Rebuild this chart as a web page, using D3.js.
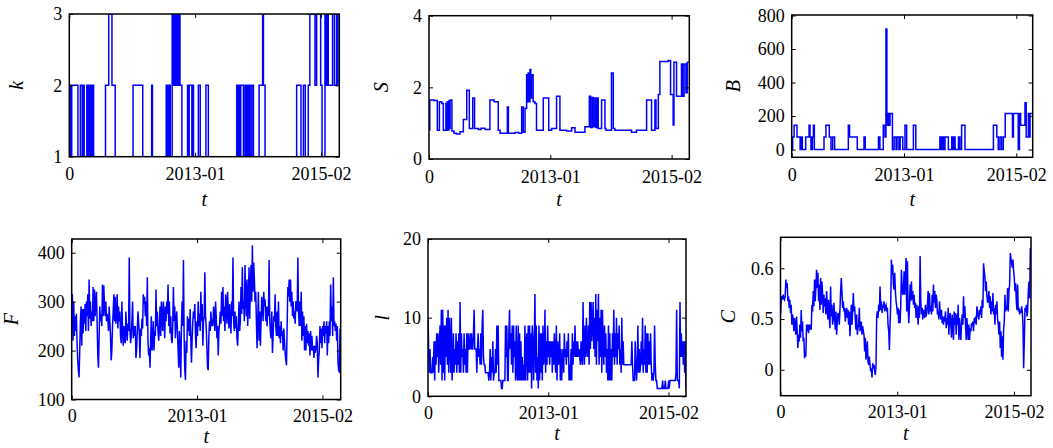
<!DOCTYPE html>
<html><head><meta charset="utf-8">
<script src="https://cdn.jsdelivr.net/npm/d3@7"></script>
<style>
body{margin:0;background:#fff}
svg{display:block}
svg text{font-family:"Liberation Serif","Times New Roman",Tinos,"DejaVu Serif",serif;fill:#000}
</style></head><body>
<svg id="chart" width="1053" height="448"></svg>
<script>
// ---- x axis (shared) ----
const tTickValues = [0, 466, 932];
const tTickLabels = ["0", "2013-01", "2015-02"];
const tDomain = [0, 1000];

// ---- k: step series [t, k] ----
const kSteps = [[0,1],[2,2],[4,1],[6,2],[8,1],[9,2],[32,1],[41,2],[48,1],[53,2],[55,1],[65,2],[68,1],[69,2],[72,1],[73,2],[75,1],[79,2],[82,1],[84,2],[86,1],[88,2],[90,1],[134,2],[146,3],[158,2],[170,1],[236,2],[272,1],[305,2],[308,1],[359,2],[362,1],[364,2],[366,1],[367,2],[370,1],[372,2],[374,1],[381,3],[385,2],[387,3],[392,2],[395,3],[399,2],[402,3],[406,2],[408,3],[410,2],[417,1],[438,2],[441,1],[444,2],[454,1],[457,2],[460,1],[478,2],[485,1],[506,2],[515,1],[620,2],[622,1],[625,2],[627,1],[630,2],[632,1],[635,2],[645,1],[651,2],[655,1],[658,2],[663,1],[667,2],[670,1],[676,2],[682,1],[703,2],[716,3],[719,2],[725,1],[842,2],[858,1],[867,2],[874,1],[885,2],[891,3],[910,2],[916,3],[931,2],[936,1],[947,3],[951,2],[954,3],[959,2],[975,3],[982,2],[990,3],[993,2],[995,3]];

// ---- S: step series [t, S] ----
const sSteps = [[0,0.81],[3,1.65],[20,1.63],[32,0.8],[40,1.6],[49,1.55],[55,0.8],[65,1.55],[68,0.8],[70,1.6],[74,0.8],[76,1.62],[79,0.85],[81,1.65],[88,0.78],[96,0.72],[105,0.7],[119,0.76],[132,1.1],[145,1.92],[155,0.85],[168,1.7],[175,0.85],[190,0.82],[200,0.86],[215,0.82],[234,1.65],[250,1.6],[266,0.8],[273,0.72],[301,1.45],[305,0.72],[330,0.74],[345,0.72],[356,1.45],[362,0.75],[369,1.42],[375,2.35],[378,1.6],[381,2.4],[384,1.6],[388,2.5],[391,1.7],[394,2.35],[400,1.6],[407,1.55],[413,0.8],[424,0.8],[439,1.7],[460,0.8],[471,0.85],[490,1.75],[503,0.8],[529,0.78],[548,0.87],[561,0.75],[599,0.9],[616,1.75],[621,0.88],[627,1.72],[631,0.9],[637,1.7],[641,0.88],[646,1.7],[650,0.85],[663,1.65],[676,0.85],[680,0.8],[701,2.4],[708,0.85],[714,0.8],[778,0.75],[797,0.8],[836,1.65],[855,0.8],[868,1.65],[872,0.85],[881,1.8],[887,2.72],[919,2.75],[928,1.8],[938,0.95],[941,2.7],[951,1.75],[970,2.65],[974,1.75],[980,2.65],[987,1.85],[992,2.7]];

// ---- B: step series [t, B] ----
const bSteps = [[0,0],[4,75],[10,145],[22,75],[35,0],[38,75],[44,0],[58,75],[72,145],[76,75],[80,0],[86,75],[90,145],[94,0],[134,75],[142,145],[156,75],[163,0],[170,75],[178,0],[235,145],[240,75],[272,0],[300,75],[305,0],[360,75],[366,0],[380,145],[387,75],[391,720],[395,145],[400,215],[404,145],[408,215],[418,0],[425,75],[433,0],[437,75],[445,0],[450,75],[461,0],[470,145],[477,0],[505,145],[515,0],[615,75],[620,0],[624,75],[630,0],[636,75],[650,0],[664,75],[670,0],[674,75],[678,0],[692,75],[698,0],[705,145],[719,0],[837,145],[851,75],[857,0],[864,75],[871,0],[878,75],[886,215],[913,215],[916,75],[920,215],[940,0],[945,215],[950,145],[968,280],[973,75],[982,215],[986,75],[989,215]];

// ---- F: sampled series ----
const fValues = [250,315,220,300,230,270,240,275,215,180,160,145,200,260,290,210,285,235,285,255,295,240,300,270,315,240,345,265,300,250,280,260,330,260,325,270,300,320,255,190,165,230,290,260,275,250,335,270,333,290,270,300,260,275,265,240,290,260,230,180,200,250,280,315,260,310,255,270,315,245,290,260,280,230,215,300,240,210,250,225,215,280,240,220,255,240,390,245,215,230,260,300,225,250,230,250,185,200,240,280,260,235,185,245,230,265,245,315,295,310,270,300,250,350,220,190,205,165,225,270,200,215,260,200,240,230,325,250,280,240,220,245,290,230,300,265,240,300,270,225,290,260,300,275,335,250,300,235,270,225,215,250,330,260,290,225,260,280,240,200,165,240,200,145,250,300,250,385,230,160,140,220,195,270,240,265,230,285,220,175,225,260,280,265,295,230,205,260,230,300,250,275,240,320,260,295,210,260,270,360,270,250,210,165,160,230,260,240,280,250,265,250,290,270,240,300,270,225,250,190,240,255,280,255,320,270,330,260,290,240,315,300,255,320,280,245,295,270,235,300,270,390,260,240,280,245,270,225,210,250,300,240,260,330,275,370,285,300,260,375,310,270,345,250,300,370,265,330,375,300,415,320,380,345,300,320,260,205,260,320,220,280,210,260,310,290,260,320,290,305,260,290,250,290,270,385,260,235,225,280,195,230,270,260,315,250,230,280,230,300,225,250,215,260,230,240,200,245,220,195,180,170,255,330,310,345,300,345,290,320,270,300,265,280,255,300,300,280,390,280,250,300,250,320,220,280,230,270,200,250,200,255,215,240,210,235,190,240,200,230,200,210,185,210,195,205,230,215,145,180,200,250,215,245,205,250,230,260,215,250,235,260,190,250,215,260,230,335,260,290,230,350,250,260,240,255,220,250,175,160,155,245,150];

// ---- l: sampled series ----
const lValues = [10,6,3,6,3,3,3,5,3,7,2,7,4,8,5,8,3,6,9,4,11,2,11,3,9,2,9,5,10,4,11,3,10,7,3,10,2,4,8,3,6,4,8,3,7,4,8,3,12,3,8,5,6,3,8,4,6,3,8,3,8,6,6,8,6,8,6,6,8,11,6,6,6,3,6,8,5,6,4,8,4,9,11,5,4,4,3,3,3,3,3,2,3,6,2,5,3,7,2,3,3,6,3,9,4,9,2,2,2,2,1,1,2,2,2,2,9,5,9,2,2,8,11,6,8,4,9,3,9,5,7,2,9,3,2,9,2,8,2,7,2,5,2,4,2,9,2,7,8,2,9,3,9,3,8,1,9,7,2,7,13,3,9,2,5,1,9,2,8,3,8,2,9,4,5,11,3,7,4,9,5,7,4,7,5,7,3,7,4,8,5,3,9,2,7,4,5,8,2,6,2,5,6,3,8,5,6,4,7,5,8,2,4,2,6,2,8,4,7,5,9,5,7,5,7,5,6,5,4,7,5,4,12,6,4,9,5,10,6,5,9,4,12,6,12,7,9,12,6,10,5,13,4,11,7,13,4,10,5,11,3,11,7,4,9,5,8,3,6,2,9,2,8,2,6,2,8,5,11,4,8,5,10,4,8,6,9,4,6,3,10,4,7,4,4,4,4,4,4,4,4,4,4,4,4,7,4,2,2,2,7,4,2,4,9,3,6,3,4,7,4,10,3,6,4,9,3,8,3,8,4,7,4,8,4,2,3,2,3,9,4,2,2,1,1,1,1,1,1,1,1,2,1,1,1,2,1,1,1,1,2,1,2,2,2,2,2,2,2,2,2,3,11,2,2,2,1,12,5,8,5,7,4,7,3,7,1];

// ---- C: sampled series ----
const cValues = [0.509,0.535,0.545,0.538,0.548,0.541,0.538,0.545,0.578,0.561,0.571,0.535,0.545,0.522,0.538,0.512,0.528,0.489,0.509,0.499,0.476,0.502,0.489,0.469,0.505,0.476,0.443,0.469,0.456,0.489,0.463,0.518,0.476,0.495,0.456,0.463,0.423,0.436,0.426,0.489,0.476,0.489,0.472,0.489,0.479,0.489,0.479,0.528,0.515,0.555,0.525,0.578,0.535,0.561,0.597,0.561,0.591,0.535,0.568,0.518,0.581,0.528,0.574,0.551,0.512,0.548,0.525,0.541,0.509,0.555,0.522,0.499,0.538,0.505,0.482,0.564,0.505,0.528,0.489,0.499,0.532,0.502,0.479,0.515,0.469,0.495,0.512,0.509,0.489,0.518,0.555,0.581,0.555,0.522,0.535,0.515,0.522,0.495,0.512,0.522,0.502,0.518,0.489,0.515,0.466,0.495,0.528,0.489,0.515,0.551,0.515,0.525,0.499,0.479,0.509,0.469,0.482,0.489,0.522,0.476,0.489,0.495,0.469,0.486,0.476,0.469,0.436,0.463,0.420,0.436,0.456,0.416,0.410,0.426,0.410,0.397,0.403,0.385,0.413,0.403,0.410,0.397,0.390,0.410,0.505,0.515,0.502,0.528,0.515,0.564,0.518,0.535,0.512,0.528,0.522,0.535,0.515,0.525,0.528,0.515,0.522,0.489,0.476,0.439,0.489,0.528,0.617,0.587,0.607,0.568,0.558,0.591,0.555,0.535,0.525,0.509,0.522,0.492,0.518,0.492,0.525,0.597,0.568,0.548,0.551,0.594,0.548,0.581,0.620,0.515,0.614,0.528,0.492,0.522,0.568,0.535,0.574,0.538,0.555,0.528,0.548,0.522,0.532,0.502,0.528,0.515,0.489,0.525,0.502,0.624,0.535,0.509,0.522,0.499,0.518,0.509,0.502,0.528,0.505,0.512,0.528,0.555,0.509,0.551,0.515,0.525,0.509,0.548,0.515,0.568,0.532,0.555,0.522,0.548,0.538,0.509,0.515,0.499,0.535,0.515,0.499,0.518,0.492,0.505,0.489,0.505,0.495,0.515,0.482,0.502,0.489,0.522,0.469,0.499,0.512,0.489,0.463,0.509,0.489,0.459,0.515,0.489,0.512,0.469,0.509,0.489,0.528,0.459,0.502,0.476,0.459,0.492,0.509,0.489,0.545,0.502,0.525,0.489,0.459,0.502,0.482,0.459,0.489,0.459,0.482,0.476,0.492,0.486,0.495,0.476,0.502,0.492,0.505,0.489,0.525,0.515,0.505,0.499,0.518,0.509,0.525,0.502,0.538,0.522,0.610,0.594,0.584,0.555,0.574,0.545,0.532,0.541,0.555,0.522,0.545,0.509,0.535,0.515,0.551,0.509,0.522,0.489,0.528,0.509,0.535,0.499,0.489,0.469,0.495,0.443,0.476,0.426,0.466,0.420,0.479,0.495,0.548,0.515,0.525,0.518,0.561,0.515,0.555,0.568,0.630,0.620,0.610,0.601,0.617,0.594,0.581,0.555,0.571,0.535,0.518,0.568,0.515,0.522,0.509,0.518,0.512,0.525,0.515,0.489,0.403,0.456,0.522,0.515,0.528,0.505,0.515,0.555,0.574,0.541,0.640,0.634];

// ---- y ticks ----
const kTicks = [1, 2, 3];
const sTicks = [0, 2, 4];
const bTicks = [0, 200, 400, 600, 800];
const fTicks = [100, 200, 300, 400];
const lTicks = [0, 10, 20];
const cTicks = [0.4, 0.5, 0.6];
const cTickLabels = ["0", "0.5", "0.6"];

function sampled(vals) {
  const n = vals.length;
  return vals.map((v, i) => [i * (tDomain[1] / (n - 1)), v]);
}
function stepped(steps) {
  return steps.concat([[tDomain[1], steps[steps.length - 1][1]]]);
}

const panels = [
  {label: "k", box: [69.3, 14, 339.3, 156.7], yDomain: [1, 3], yTicks: kTicks, data: stepped(kSteps), step: true, ylabX: -46, xlabY: 49, xpad: 11},
  {label: "S", box: [429, 15.7, 689.3, 159], yDomain: [0, 4], yTicks: sTicks, data: stepped(sSteps), step: true, ylabX: -41, xlabY: 47, xpad: 11},
  {label: "B", box: [791.7, 15, 1032.7, 157.3], yDomain: [-46, 803], yTicks: bTicks, data: stepped(bSteps), step: true, ylabX: -51.5, xlabY: 48.5, xpad: 11},
  {label: "F", box: [71.7, 239, 340.7, 399.5], yDomain: [100, 428], yTicks: fTicks, data: sampled(fValues), step: false, ylabX: -54, xlabY: 43, xpad: 10},
  {label: "l", box: [428, 239, 686, 396.3], yDomain: [0, 20], yTicks: lTicks, data: sampled(lValues), step: false, ylabX: -39.5, xlabY: 44, xpad: 10},
  {label: "C", box: [780.5, 237.3, 1031, 395.7], yDomain: [0.349, 0.661], yTicks: cTicks, yTickLabels: cTickLabels, data: sampled(cValues), step: false, ylabX: -45.5, xlabY: 44, xpad: 10}
];

const svg = d3.select("#chart");
const TICK = 4, FS = 18;
const SERIF = '"Liberation Serif","Times New Roman",Tinos,"DejaVu Serif",serif';

panels.forEach((p, pi) => {
  const [x0, y0, x1, y1] = p.box;
  const w = x1 - x0, h = y1 - y0;
  const g = svg.append("g").attr("transform", `translate(${x0},${y0})`);
  const x = d3.scaleLinear().domain(tDomain).range([0, w]);
  const y = d3.scaleLinear().domain(p.yDomain).range([h, 0]);

  g.append("clipPath").attr("id", "clip" + pi)
    .append("rect").attr("width", w).attr("height", h);

  const line = d3.line().x(d => x(d[0])).y(d => y(d[1]));
  if (p.step) line.curve(d3.curveStepAfter);
  g.append("path").datum(p.data)
    .attr("clip-path", `url(#clip${pi})`)
    .attr("fill", "none").attr("stroke", "#0000ff")
    .attr("stroke-width", 1.5).attr("stroke-linejoin", "miter")
    .attr("d", line);

  const fmtX = (d, i) => tTickLabels[i];
  const fmtY = p.yTickLabels ? ((d, i) => p.yTickLabels[i]) : d3.format("");

  const styleAxis = sel => {
    sel.attr("font-family", SERIF).attr("font-size", FS);
    sel.select(".domain").remove();
    sel.selectAll(".tick line").attr("stroke", "#000").attr("stroke-width", 1);
    sel.selectAll("text").attr("font-family", SERIF).attr("font-size", FS).attr("fill", "#000");
  };

  g.append("g").attr("transform", `translate(0,${h})`)
    .call(d3.axisBottom(x).tickValues(tTickValues).tickFormat(fmtX).tickSizeInner(-TICK).tickSizeOuter(0).tickPadding(p.xpad))
    .call(styleAxis);
  g.append("g")
    .call(d3.axisTop(x).tickValues(tTickValues).tickFormat("").tickSizeInner(-TICK).tickSizeOuter(0))
    .call(styleAxis);
  g.append("g")
    .call(d3.axisLeft(y).tickValues(p.yTicks).tickFormat(fmtY).tickSizeInner(-TICK).tickSizeOuter(0).tickPadding(7))
    .call(styleAxis);
  g.append("g").attr("transform", `translate(${w},0)`)
    .call(d3.axisRight(y).tickValues(p.yTicks).tickFormat("").tickSizeInner(-TICK).tickSizeOuter(0))
    .call(styleAxis);

  g.append("rect").attr("width", w).attr("height", h)
    .attr("fill", "none").attr("stroke", "#000").attr("stroke-width", 1.5);

  g.append("text")
    .attr("transform", `translate(${p.ylabX},${h / 2}) rotate(-90)`)
    .attr("text-anchor", "middle")
    .attr("font-family", SERIF).attr("font-style", "italic").attr("font-size", 20)
    .text(p.label);

  g.append("text")
    .attr("x", w / 2).attr("y", h + p.xlabY)
    .attr("text-anchor", "middle")
    .attr("font-family", SERIF).attr("font-style", "italic").attr("font-size", 20)
    .text("t");
});
</script>
</body></html>
